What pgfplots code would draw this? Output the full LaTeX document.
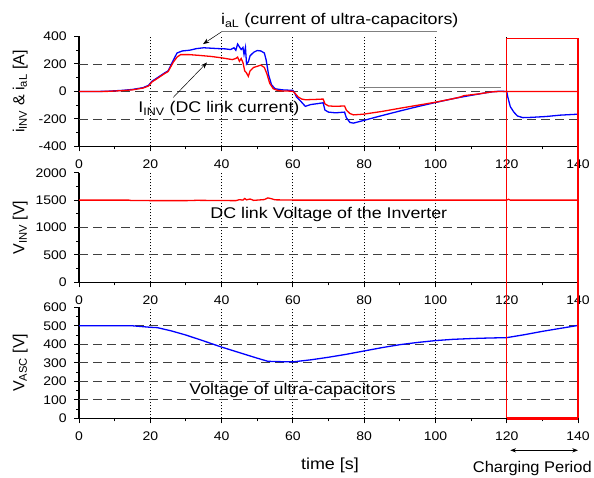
\documentclass[border=0pt]{standalone}
\usepackage{fontspec}
\setmainfont{Liberation Sans}
\usepackage{pgfplots}
\pgfplotsset{compat=1.18}
\usetikzlibrary{arrows.meta}

\pgfplotsset{
  panel/.style={
    scale only axis, width=499pt, anchor=south west,
    xmin=0, xmax=140, xtick={0,20,...,140}, minor x tick num=1,
    axis x line*=bottom, axis y line*=left,
    axis line style={line width=1.3pt},
    tick align=outside, major tick length=5pt, minor tick length=3pt,
    every tick/.style={black, line width=1pt},
    tick label style={font=\fontsize{12.5}{14}\selectfont, xscale=1.12},
    xticklabel style={yshift=-5pt},
    yticklabel style={xshift=-3pt},
    /pgf/number format/assume math mode=true,
    /pgf/number format/1000 sep={},
    label style={font=\fontsize{16}{18}\selectfont},
    ylabel style={at={(axis description cs:-0.118,0.5)}, anchor=center},
    clip=false,
  },
}
\tikzset{
  vgrid/.style={black, line width=0.8pt, dash pattern=on 1pt off 2pt},
  hgrid/.style={black!75, line width=0.9pt, dash pattern=on 9pt off 5pt},
  ann/.style={font=\fontsize{15.5}{17}\selectfont, xscale=1.15},
}

\begin{document}
\begin{tikzpicture}
% ---------- top panel: currents
\begin{axis}[panel, at={(79pt,-146.5pt)}, height=110pt,
  ymin=-400, ymax=400, ytick={-400,-200,0,200,400}, minor y tick num=1,
  ylabel={i\textsubscript{INV} \& i\textsubscript{aL} [A]}]
\pgfplotsinvokeforeach{20,40,60,80,100,120}{\draw[vgrid] (axis cs:#1,-400) -- (axis cs:#1,400);}
\pgfplotsinvokeforeach{-200,0,200}{\draw[hgrid] (axis cs:0,#1) -- (axis cs:140,#1);}
\addplot[blue, line width=1.3pt] coordinates {
  (0,0) (5,0) (8,2) (12,8) (15,15) (18,28) (19.5,45) (20.5,75) (22,100) (24,135)
  (25,150) (26.5,230) (27.5,280) (29,295) (31,300) (33,312) (35,318) (37,315)
  (39,312) (41,310) (42.5,305) (43.5,318) (44,300) (44.5,345) (45,325) (45.5,305)
  (46,320) (46.3,270) (46.7,320) (47,200) (47.5,215) (48,260) (49,285) (50,298)
  (51,295) (52,280) (52.5,230) (53.2,120) (54,50) (55,20) (57,12) (60,8)
  (60.5,-10) (61,-40) (62,-65) (63.5,-108) (65,-95) (67,-88) (68.5,-82) (69,-135)
  (70,-150) (72,-155) (74.5,-150) (75,-190) (76,-225) (77,-230) (79.8,-211)
  (85,-175) (90,-142) (95,-110) (100,-80) (105,-52) (107,-42) (110,-28) (114,-10)
  (116,-2) (118,2) (120,0) (120.3,-40) (121,-110) (122,-150) (123,-178) (124.5,-190)
  (127,-188) (131,-182) (135,-172) (140,-165)};
\addplot[red, line width=1.3pt] coordinates {
  (0,0) (5,0) (8,1) (12,6) (15,12) (18,25) (19.5,40) (20.5,70) (22,95) (24,130)
  (25,145) (26.5,215) (27.5,250) (28.5,268) (31,268) (34,262) (37,255) (40,245)
  (43,232) (44,240) (44.5,250) (45,220) (45.5,240) (46,210) (46.5,150) (47,135)
  (47.5,110) (48,150) (49,175) (50,183) (51,192) (52,175) (52.7,130) (53.5,60)
  (54.5,20) (56,5) (60,2) (60.5,-10) (61.5,-40) (62.5,-55) (63.5,-60) (66,-58)
  (68.5,-55) (69,-90) (70,-105) (72,-108) (74.5,-105) (75,-135) (76,-160) (77,-170)
  (79.8,-165) (85,-145) (90,-122) (95,-100) (100,-78) (105,-52) (107,-40) (108,-30)
  (112,-18) (116,-2) (118,0) (140,0)};
% annotations
\draw[gray, line width=0.9pt] (axis cs:40.1,436) -- (axis cs:100.4,436);
\draw[black, line width=0.5pt, -{Stealth[length=2.2mm]}] (axis cs:40.1,436) -- (axis cs:34.8,345);
\node[ann, anchor=base west, inner sep=0pt] at (axis cs:39.8,487) {i\textsubscript{aL} (current of ultra-capacitors)};
\draw[black, line width=0.5pt, -{Stealth[length=2.2mm]}] (axis cs:26.4,-44) -- (axis cs:35.9,211);
\node[ann, anchor=base west, inner sep=0pt] at (axis cs:16.6,-153) {I\textsubscript{INV} (DC link current)};
\draw[gray, line width=0.9pt] (axis cs:78.6,30) -- (axis cs:118.4,30);
\coordinate (rt1) at (axis cs:120,385);
\coordinate (rt2) at (axis cs:140,385);
\end{axis}

% ---------- middle panel: DC link voltage
\begin{axis}[panel, at={(79pt,-282.3pt)}, height=109.6pt,
  ymin=0, ymax=2000, ytick={0,500,...,2000}, minor y tick num=1,
  ylabel={V\textsubscript{INV} [V]}]
\pgfplotsinvokeforeach{20,40,60,80,100,120}{\draw[vgrid] (axis cs:#1,0) -- (axis cs:#1,2000);}
\pgfplotsinvokeforeach{500,1000}{\draw[hgrid] (axis cs:0,#1) -- (axis cs:140,#1);}
\addplot[red, line width=1.3pt] coordinates {
  (0,1500) (14,1500) (14.5,1494) (19,1494) (20,1490) (30,1490) (33,1496) (44,1490)
  (45,1508) (46,1500) (46.5,1530) (47,1505) (48,1520) (49,1495) (52,1510) (53,1540)
  (54,1525) (55,1505) (60,1500) (120,1500) (120.5,1515) (121,1500) (140,1500)};
\node[ann, anchor=base west, inner sep=0pt] at (axis cs:36.8,1164) {DC link Voltage of the Inverter};
\end{axis}

% ---------- bottom panel: ultra-capacitor voltage
\begin{axis}[panel, at={(79pt,-418.3pt)}, height=111pt,
  ymin=0, ymax=600, ytick={0,100,...,600}, minor y tick num=1,
  ylabel={V\textsubscript{ASC} [V]}]
\pgfplotsinvokeforeach{20,40,60,80,100,120}{\draw[vgrid] (axis cs:#1,0) -- (axis cs:#1,600);}
\pgfplotsinvokeforeach{100,200,300,400,500}{\draw[hgrid] (axis cs:0,#1) -- (axis cs:140,#1);}
\addplot[blue, line width=1.3pt] coordinates {
  (0,500) (15,500) (20,492) (22,490) (26,472) (30,450) (35,418) (40,385) (45,355)
  (50,325) (53,308) (57,306) (60,305) (65,316) (70,330) (75,346) (80,364) (85,382)
  (90,398) (95,410) (100,420) (105,427) (110,431) (115,434) (120,436) (125,452)
  (130,470) (135,486) (140,502)};
\node[ann, anchor=base west, inner sep=0pt] at (axis cs:30.9,130) {Voltage of ultra-capacitors};
\node[font=\fontsize{16}{18}\selectfont, xscale=1.12] at (axis cs:70.4,-254) {time [s]};
\draw[black, line width=0.8pt, {Stealth[length=2mm]}-{Stealth[length=2mm]}] (axis cs:121,-173) -- (axis cs:140,-173);
\node[font=\fontsize{15.5}{17}\selectfont, xscale=1.06, anchor=base east, inner sep=0pt] at (axis cs:143.9,-292) {Charging Period};
\coordinate (rb1) at (axis cs:120,0);
\coordinate (rb2) at (axis cs:140,0);
\end{axis}

% charging-period frame
\draw[red, line width=1.5pt] (rb1) -- (rt1) -- (rt2) -- (rb2);
\draw[red, line width=3pt] (rb1) -- (rb2);

\pgfresetboundingbox
\useasboundingbox (0,-478pt) rectangle (594pt,0);
\end{tikzpicture}
\end{document}
